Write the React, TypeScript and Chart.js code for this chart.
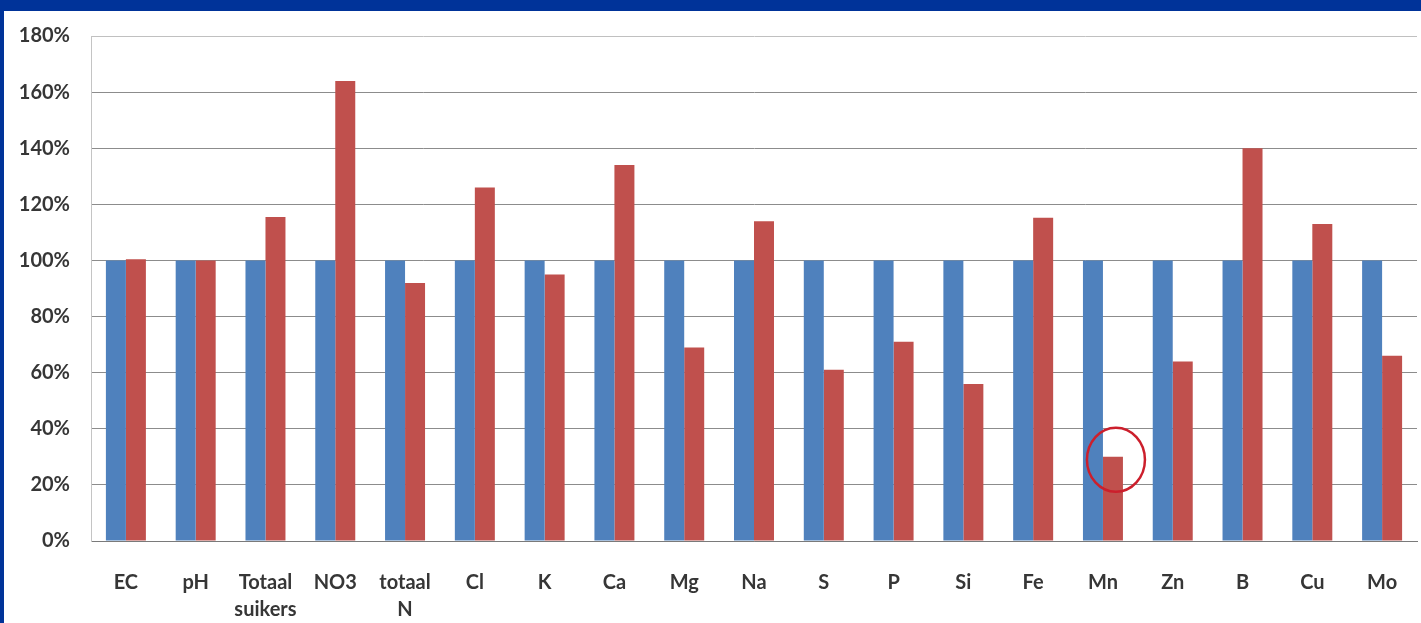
import React, { useEffect, useRef } from "react";
import { Chart, registerables } from "chart.js";

Chart.register(...registerables);

// Element names along the x axis (multi-line labels are arrays)
const categories: (string | string[])[] = [
  "EC",
  "pH",
  ["Totaal", "suikers"],
  "NO3",
  ["totaal", "N"],
  "Cl",
  "K",
  "Ca",
  "Mg",
  "Na",
  "S",
  "P",
  "Si",
  "Fe",
  "Mn",
  "Zn",
  "B",
  "Cu",
  "Mo",
];

// Reference level (100%) for every element
const referenceValues: number[] = [
  100, 100, 100, 100, 100, 100, 100, 100, 100, 100,
  100, 100, 100, 100, 100, 100, 100, 100, 100,
];

// Measured level relative to the reference, in percent
const measuredValues: number[] = [
  100.4, 100, 115.5, 164, 92, 126, 95, 134, 69, 114,
  61, 71, 56, 115.2, 30, 64, 140, 113, 66,
];

// Y axis range and step, in percent
const yMin = 0;
const yMax = 180;
const yStep = 20;

// Category whose measured bar gets a red ring
const highlightedIndex = 14; // Mn

const BLUE = "#4F81BD";
const RED = "#C0504D";
const TEXT = "#363636";
const FONT = "Lato, 'Liberation Sans', sans-serif";

const ringPlugin = {
  id: "ringHighlight",
  afterDatasetsDraw(chart: Chart) {
    const meta = chart.getDatasetMeta(1);
    const bar: any = meta.data[highlightedIndex];
    if (!bar) return;
    const ctx = chart.ctx;
    ctx.save();
    ctx.strokeStyle = "#cc1f2c";
    ctx.lineWidth = 2.5;
    ctx.beginPath();
    ctx.ellipse(bar.x + 3, bar.y + 3, 29, 32, 0, 0, Math.PI * 2);
    ctx.stroke();
    ctx.restore();
  },
};

export default function App() {
  const canvasRef = useRef<HTMLCanvasElement | null>(null);

  useEffect(() => {
    document.body.style.margin = "0";
    document.body.style.overflow = "hidden";
    const canvas = canvasRef.current;
    if (!canvas) return;
    const chart = new Chart(canvas, {
      type: "bar",
      data: {
        labels: categories,
        datasets: [
          {
            label: "Referentie",
            data: referenceValues,
            backgroundColor: BLUE,
            borderWidth: 0,
            categoryPercentage: 0.573,
            barPercentage: 1.0,
          },
          {
            label: "Meting",
            data: measuredValues,
            backgroundColor: RED,
            borderWidth: 0,
            categoryPercentage: 0.573,
            barPercentage: 1.0,
          },
        ],
      },
      options: {
        responsive: false,
        animation: false,
        layout: { padding: { top: 25, right: 4, bottom: 0, left: 0 } },
        plugins: {
          legend: { display: false },
          tooltip: { enabled: false },
        },
        scales: {
          x: {
            grid: { display: false, drawTicks: false },
            border: { display: true, color: "#7a7a7a", width: 1 },
            ticks: {
              color: TEXT,
              font: { family: FONT, size: 20, weight: "bold", lineHeight: 1.35 },
              padding: 28,
              maxRotation: 0,
              autoSkip: false,
            },
            afterFit(scale: any) {
              scale.height = 82;
              scale.paddingLeft = 0;
              scale.paddingRight = 0;
            },
          },
          y: {
            min: yMin,
            max: yMax,
            grid: {
              drawTicks: false,
              color: (ctx: any) => {
                const v = ctx.tick ? ctx.tick.value : null;
                if (v === yMax) return "#c0c0c0";
                if (v === yMin) return "#7a7a7a";
                return "#8c8c8c";
              },
              lineWidth: 1,
            },
            border: { display: true, color: "#c4c4c4", width: 1 },
            ticks: {
              stepSize: yStep,
              color: TEXT,
              font: { family: FONT, size: 20, weight: "bold" },
              padding: 21,
              callback: (v: any) => `${v}%`,
            },
            afterFit(scale: any) {
              scale.width = 87;
              scale.paddingTop = 0;
              scale.paddingBottom = 0;
            },
          },
        },
      },
      plugins: [ringPlugin],
    });
    return () => chart.destroy();
  }, []);

  return (
    <div
      style={{
        position: "relative",
        width: 1421,
        height: 623,
        background: "#003399",
        overflow: "hidden",
      }}
    >
      <div
        style={{
          position: "absolute",
          left: 4,
          top: 11,
          width: 1417,
          height: 612,
          background: "#ffffff",
        }}
      >
        <canvas ref={canvasRef} width={1417} height={612} style={{ display: "block" }} />
      </div>
    </div>
  );
}
